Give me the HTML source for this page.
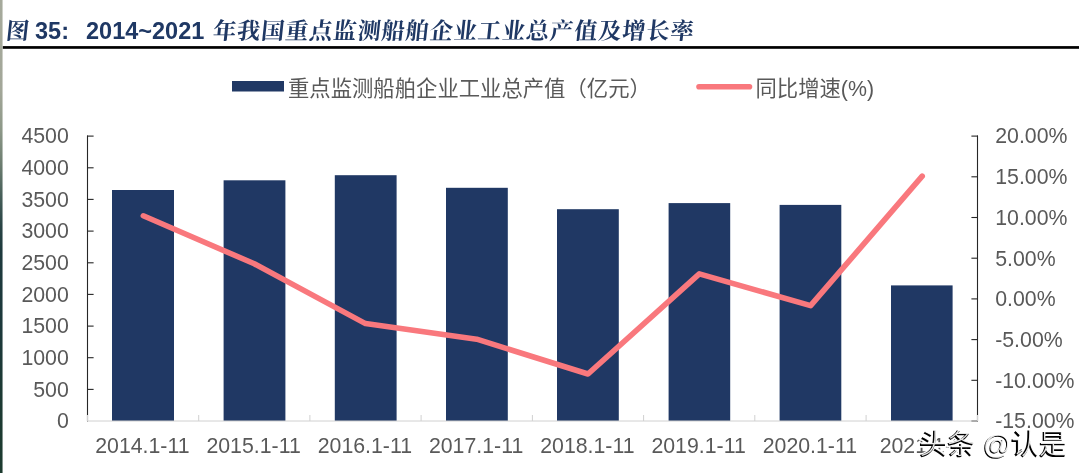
<!DOCTYPE html>
<html lang="zh-CN">
<head>
<meta charset="utf-8">
<title>图 35: 2014~2021 年我国重点监测船舶企业工业总产值及增长率</title>
<style>
  html, body { margin: 0; padding: 0; background: #ffffff; }
  body { width: 1079px; height: 473px; position: relative; overflow: hidden;
         font-family: "Liberation Sans", "Noto Sans CJK SC", sans-serif; }
  #strip { position: absolute; left: 0; top: 0; width: 3px; height: 473px;
           background: linear-gradient(to bottom,
             #a6aa9c 0px, #a3a799 90px, #8d9888 130px, #6c7d70 165px,
             #48605a 195px, #2a4546 225px, #1e3a3d 250px, #1c393b 330px,
             #1c3a33 400px, #1d3b2f 473px); }
  #strip:after { content: ""; position: absolute; left: 2px; top: 0; width: 1px; height: 473px;
           background: rgba(255,255,255,0.45); }
  #title { position: absolute; left: 0; top: 0; width: 1079px; height: 46px;
           color: #1f3864; font-weight: bold; white-space: nowrap; }
  #title span { position: absolute; top: 13px; line-height: 34px; height: 34px; }
  #title .lat { font-family: "Liberation Sans", "Noto Sans CJK SC", sans-serif; font-size: 23.5px; top: 14px; }
  #title .cjk { font-family: "Liberation Serif", "Noto Serif CJK SC", serif; font-size: 23.2px;
                font-weight: 700; letter-spacing: 0.89px; top: 13.5px !important; transform: skewX(-6deg); transform-origin: 0 80%; }
  #title .sk { display: inline-block; position: static; transform: skewX(-8deg); transform-origin: 0 100%; }
  #chart { position: absolute; left: 0; top: 0; }
  #chart text { font-family: "Liberation Sans", "Noto Sans CJK SC", sans-serif; fill: #595959; }
  .wm { position: absolute; left: 918.5px; top: 428.5px; font-size: 27.9px; line-height: 34px; color: #000;
        font-family: "Liberation Sans", "Noto Sans CJK SC", sans-serif; white-space: nowrap; }
  #wm1 { -webkit-text-stroke: 3.5px #fff; color: #fff; }
  #wm2 { color: #000; font-weight: 500; }
  #wm3 { color: #fff; font-weight: 200; left: 919.6px; top: 427.6px; opacity: 0.9;
         font-family: "Liberation Sans", "Noto Sans CJK SC", sans-serif; }
</style>
</head>
<body>
<div id="strip"></div>

<div id="title">
  <span class="cjk" style="left:5px">图</span>
  <span class="lat" style="left:35px">35:</span>
  <span class="lat" style="left:86px">2014~2021</span>
  <span class="cjk" style="left:211.5px">年我国重点监测船舶企业工业总产值及增长率</span>
</div>

<svg id="chart" width="1079" height="473" viewBox="0 0 1079 473">
  <rect x="2.8" y="46.1" width="1077" height="2.7" fill="#000"/>
  <!-- legend -->
  <rect x="232" y="81" width="52" height="10.5" fill="#203864"/>
  <text x="288" y="95.5" font-size="21.35">重点监测船舶企业工业总产值（亿元）</text>
  <line x1="699" y1="86.8" x2="749.5" y2="86.8" stroke="#f9787d" stroke-width="5.6" stroke-linecap="round"/>
  <text x="755.5" y="95.5" font-size="21.35">同比增速(%)</text>

  <!-- bars -->
  <g fill="#203864">
    <rect x="112" y="190" width="62" height="231"/>
    <rect x="223.6" y="180.3" width="61.8" height="240.7"/>
    <rect x="334.8" y="175.2" width="61.8" height="245.8"/>
    <rect x="446" y="187.8" width="61.8" height="233.2"/>
    <rect x="557" y="209.2" width="61.8" height="211.8"/>
    <rect x="668.6" y="203.1" width="61.6" height="217.9"/>
    <rect x="779.6" y="204.9" width="61.7" height="216.1"/>
    <rect x="891" y="285.4" width="61.6" height="135.6"/>
  </g>

  <!-- left axis -->
  <g stroke="#262626" stroke-width="1.1" fill="none">
    <line x1="87.5" y1="135.6" x2="87.5" y2="421.4"/>
    <line x1="87" y1="136.1" x2="93.6" y2="136.1"/>
    <line x1="87" y1="167.8" x2="93.6" y2="167.8"/>
    <line x1="87" y1="199.4" x2="93.6" y2="199.4"/>
    <line x1="87" y1="231.1" x2="93.6" y2="231.1"/>
    <line x1="87" y1="262.8" x2="93.6" y2="262.8"/>
    <line x1="87" y1="294.4" x2="93.6" y2="294.4"/>
    <line x1="87" y1="326.1" x2="93.6" y2="326.1"/>
    <line x1="87" y1="357.7" x2="93.6" y2="357.7"/>
    <line x1="87" y1="389.4" x2="93.6" y2="389.4"/>
  </g>
  <!-- right axis -->
  <g stroke="#262626" stroke-width="1.1" fill="none">
    <line x1="977.5" y1="135.6" x2="977.5" y2="421.4"/>
    <line x1="971.4" y1="136.1" x2="978" y2="136.1"/>
    <line x1="971.4" y1="176.8" x2="978" y2="176.8"/>
    <line x1="971.4" y1="217.5" x2="978" y2="217.5"/>
    <line x1="971.4" y1="258.2" x2="978" y2="258.2"/>
    <line x1="971.4" y1="298.9" x2="978" y2="298.9"/>
    <line x1="971.4" y1="339.6" x2="978" y2="339.6"/>
    <line x1="971.4" y1="380.3" x2="978" y2="380.3"/>
    <line x1="971.4" y1="421" x2="978" y2="421"/>
  </g>

  <!-- bottom axis -->
  <g stroke="#d0d0d0" stroke-width="1" fill="none">
    <line x1="87" y1="421" x2="978" y2="421"/>
    <line x1="87.5" y1="415" x2="87.5" y2="421"/>
    <line x1="977.5" y1="415" x2="977.5" y2="421"/>
    <line x1="198.7" y1="415" x2="198.7" y2="421"/>
    <line x1="309.9" y1="415" x2="309.9" y2="421"/>
    <line x1="421.1" y1="415" x2="421.1" y2="421"/>
    <line x1="532.4" y1="415" x2="532.4" y2="421"/>
    <line x1="643.6" y1="415" x2="643.6" y2="421"/>
    <line x1="754.8" y1="415" x2="754.8" y2="421"/>
    <line x1="866.1" y1="415" x2="866.1" y2="421"/>
  </g>

  <!-- line series -->
  <polyline fill="none" stroke="#f9787d" stroke-width="5.6" stroke-linecap="round" stroke-linejoin="round"
    points="143.3,215.8 254.3,263.8 365.5,323.6 476.7,339.2 588,374 699.3,273.9 810.6,305.6 922.2,176.2"/>

  <!-- left labels -->
  <g font-size="21.3" text-anchor="end">
    <text x="68.8" y="143.2">4500</text>
    <text x="68.8" y="174.9">4000</text>
    <text x="68.8" y="206.5">3500</text>
    <text x="68.8" y="238.2">3000</text>
    <text x="68.8" y="269.9">2500</text>
    <text x="68.8" y="301.5">2000</text>
    <text x="68.8" y="333.2">1500</text>
    <text x="68.8" y="364.8">1000</text>
    <text x="68.8" y="396.5">500</text>
    <text x="68.8" y="428.2">0</text>
  </g>
  <!-- right labels -->
  <g font-size="21.3">
    <text x="995.2" y="143.4">20.00%</text>
    <text x="995.2" y="184.1">15.00%</text>
    <text x="995.2" y="224.8">10.00%</text>
    <text x="995.2" y="265.5">5.00%</text>
    <text x="995.2" y="306.2">0.00%</text>
    <text x="995.2" y="346.9">-5.00%</text>
    <text x="995.2" y="387.6">-10.00%</text>
    <text x="995.2" y="428.3">-15.00%</text>
  </g>
  <!-- x labels -->
  <g font-size="21.3" text-anchor="middle">
    <text x="142.4" y="452.8">2014.1-11</text>
    <text x="253.6" y="452.8">2015.1-11</text>
    <text x="364.9" y="452.8">2016.1-11</text>
    <text x="476.1" y="452.8">2017.1-11</text>
    <text x="587.4" y="452.8">2018.1-11</text>
    <text x="698.6" y="452.8">2019.1-11</text>
    <text x="809.9" y="452.8">2020.1-11</text>
    <text x="921.7" y="452.8">2021.1-9</text>
  </g>
</svg>

<div id="wm1" class="wm">头条 @认是</div>
<div id="wm2" class="wm">头条 @认是</div>
<div id="wm3" class="wm">头条 @认是</div>
</body>
</html>
